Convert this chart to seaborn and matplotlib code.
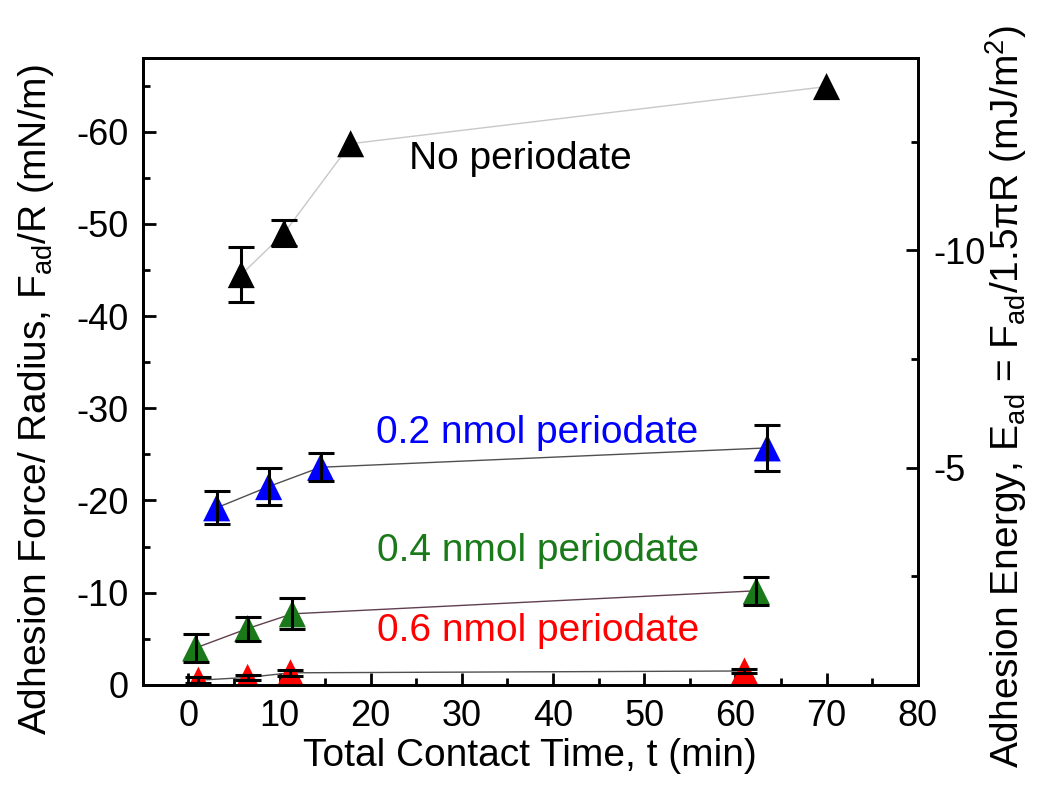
import numpy as np
import pandas as pd
import matplotlib
matplotlib.use("Agg")
import matplotlib.pyplot as plt
import seaborn as sns
from matplotlib.ticker import FixedLocator

sns.set_theme(style="ticks")
plt.rcParams['font.family'] = ['Liberation Sans', 'DejaVu Sans']
plt.rcParams['mathtext.fontset'] = 'custom'
plt.rcParams['mathtext.rm'] = 'Liberation Sans'
plt.rcParams['mathtext.it'] = 'Liberation Sans'
plt.rcParams['axes.unicode_minus'] = False
for key in ['text.color', 'axes.labelcolor', 'xtick.color', 'ytick.color', 'axes.edgecolor']:
    plt.rcParams[key] = 'black'

# ---- data ----
series_names = ["No periodate", "0.2 nmol periodate", "0.4 nmol periodate", "0.6 nmol periodate"]
series_colors = ["#000000", "#0000ff", "#1a7a1a", "#ff0000"]
line_colors = ["#c8c8c8", "#505050", "#604050", "#505050"]

t_none = [5.8, 10.5, 17.8, 70.0]
f_none = [-44.5, -49.0, -58.7, -64.9]
e_none = [3.0, 1.4, 0.0, 0.0]

t_02 = [3.1, 8.8, 14.5, 63.5]
f_02 = [-19.2, -21.5, -23.6, -25.7]
e_02 = [1.8, 2.0, 1.5, 2.5]

t_04 = [0.8, 6.5, 11.4, 62.3]
f_04 = [-4.0, -6.1, -7.7, -10.2]
e_04 = [1.5, 1.3, 1.7, 1.5]

t_06 = [1.1, 6.5, 11.2, 61.0]
f_06 = [-0.5, -0.8, -1.3, -1.5]
e_06 = [0.3, 0.3, 0.3, 0.2]

label_x = [24.2, 20.6, 20.7, 20.7]
label_y = [-57.0, -27.3, -14.5, -5.8]

ts = [t_none, t_02, t_04, t_06]
fs = [f_none, f_02, f_04, f_06]
es = [e_none, e_02, e_04, e_06]

df = pd.concat([pd.DataFrame({"t": t, "F": f, "err": e, "series": n})
                for t, f, e, n in zip(ts, fs, es, series_names)], ignore_index=True)

fig = plt.figure(figsize=(10.5, 8.0), dpi=100)
ax = fig.add_axes([0.136, 0.144, 0.738, 0.7835])

sns.lineplot(data=df, x="t", y="F", hue="series", hue_order=series_names,
             palette=dict(zip(series_names, line_colors)), linewidth=1.0,
             legend=False, ax=ax, sort=False, estimator=None, zorder=2)
sns.scatterplot(data=df, x="t", y="F", hue="series", hue_order=series_names,
                palette=dict(zip(series_names, series_colors)), marker="^",
                s=380, linewidth=0, legend=False, ax=ax, zorder=3)
eb = df[df["err"] > 0]
ax.errorbar(eb["t"], eb["F"], yerr=eb["err"], fmt="none", ecolor="black",
            elinewidth=2.2, capsize=9.5, capthick=2.2, zorder=4)

for n, c, x, y in zip(series_names, series_colors, label_x, label_y):
    ax.text(x, y, n, color=c, fontsize=28, ha="left", va="center")

ax.set_xlim(-5, 80)
ax.set_ylim(0, -68)
ax.xaxis.set_major_locator(FixedLocator(np.arange(0, 81, 10)))
ax.xaxis.set_minor_locator(FixedLocator(np.arange(-5, 81, 5)))
ax.yaxis.set_major_locator(FixedLocator(np.arange(0, -61, -10)))
ax.yaxis.set_minor_locator(FixedLocator(np.arange(-5, -66, -10)))
ax.tick_params(which="both", direction="in", width=2, labelsize=26, pad=10)
ax.tick_params(which="major", length=9)
ax.tick_params(which="minor", length=5)
ax.tick_params(axis="y", right=False)
for sp in ax.spines.values():
    sp.set_linewidth(2)
    sp.set_visible(True)
ax.set_xlabel("Total Contact Time, t (min)", fontsize=28)
ax.set_ylabel(r"Adhesion Force/ Radius, F$_{\rm ad}$/R (mN/m)", fontsize=28)
ax.xaxis.set_label_coords(0.5, -0.085)
ax.yaxis.set_label_coords(-0.112, 0.455)

ax2 = ax.twinx()
k = 1.5 * np.pi
ax2.set_ylim(0 / k, -68 / k)
ax2.yaxis.set_major_locator(FixedLocator([-10, -5]))
ax2.yaxis.set_minor_locator(FixedLocator([-12.5, -7.5, -2.5]))
ax2.tick_params(which="both", direction="in", width=2, labelsize=26, pad=11)
ax2.tick_params(which="major", length=9)
ax2.tick_params(which="minor", length=5)
for sp in ax2.spines.values():
    sp.set_linewidth(2)
ax2.set_ylabel(r"Adhesion Energy, E$_{\rm ad}$ = F$_{\rm ad}$/1.5$\pi$R (mJ/m$^2$)",
               fontsize=28)
ax2.yaxis.set_label_coords(1.085, 0.46)

fig.savefig("out.png", dpi=100)
